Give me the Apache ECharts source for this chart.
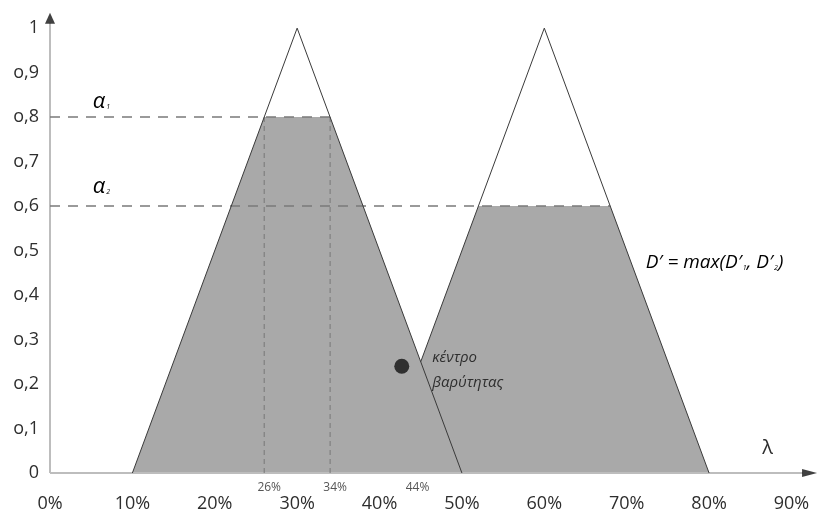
<!DOCTYPE html>
<html>
<head>
<meta charset="utf-8">
<script src="https://cdn.jsdelivr.net/npm/echarts@6/dist/echarts.min.js"></script>
<style>
html,body{margin:0;padding:0;background:#fff;}
#chart{width:820px;height:518px;}
</style>
</head>
<body>
<div id="chart"></div>
<script>
// ---- data ----
var xTickLabels = ['0%','10%','20%','30%','40%','50%','60%','70%','80%','90%'];
var yTickLabels = ['0','o,1','o,2','o,3','o,4','o,5','o,6','o,7','o,8','o,9','1'];
var triangle1 = [[10,0],[30,1],[50,0]];
var triangle2 = [[45,0.25],[60,1],[80,0]];
var aggregated = [[10,0],[26,0.8],[34,0.8],[45,0.25],[52,0.6],[68,0.6],[80,0]];
var alpha1Line = [[0,0.8],[34,0.8]];
var alpha2Line = [[0,0.6],[68,0.6]];
var cut1 = [[26,0],[26,0.8]];
var cut2 = [[34,0],[34,0.8]];
var centroid = [[42.7,0.24]];
var smallTickValues = [26,34,44];
var smallTickLabels = ['26%','34%','44%'];

var FONT = '"Open Sans", "Noto Sans", sans-serif';
var chart = echarts.init(document.getElementById('chart'), null, {renderer:'canvas'});

function labelFor(arr, v, step){
  var i = Math.round(v/step);
  if (Math.abs(i*step - v) > 1e-6 || i < 0 || i >= arr.length) return '';
  return arr[i];
}

var option = {
  animation:false,
  backgroundColor:'#ffffff',
  grid:{left:50, right:0, top:13, bottom:45},
  xAxis:{
    type:'value', min:0, max:93.1, interval:10,
    axisLine:{show:false}, axisTick:{show:false}, splitLine:{show:false},
    axisLabel:{margin:22, fontSize:18, color:'#2e2e2e', fontFamily:FONT,
      formatter:function(v){return labelFor(xTickLabels, v, 10);}}
  },
  yAxis:{
    type:'value', min:0, max:1.034, interval:0.1,
    axisLine:{show:false}, axisTick:{show:false}, splitLine:{show:false},
    axisLabel:{margin:11, fontSize:18, color:'#2e2e2e', fontFamily:FONT,
      formatter:function(v){return labelFor(yTickLabels, v, 0.1);}}
  },
  series:[
    {type:'line', data:aggregated, symbol:'none', lineStyle:{width:0},
     areaStyle:{color:'#a9a9a9', opacity:1}, z:1},
    {type:'line', data:[[0,0],[91.4,0]], symbol:'none', clip:false,
     lineStyle:{color:'#bdbdbd', width:2}, z:2},
    {type:'line', data:[[0,0],[0,1.012]], symbol:'none', clip:false,
     lineStyle:{color:'#bdbdbd', width:2}, z:2},
    {type:'scatter', data:[[92.2,0]], symbol:'triangle', symbolSize:[8,15], symbolRotate:-90,
     clip:false, itemStyle:{color:'#111'}, z:5},
    {type:'scatter', data:[[0,1.022]], symbol:'triangle', symbolSize:[10,11],
     clip:false, itemStyle:{color:'#111'}, z:5},
    {type:'line', data:alpha1Line, symbol:'none',
     lineStyle:{color:'#7a7a7a', width:1.5, type:[10,8]}, z:3},
    {type:'line', data:alpha2Line, symbol:'none',
     lineStyle:{color:'#7a7a7a', width:1.5, type:[10,8]}, z:3},
    {type:'line', data:cut1, symbol:'none',
     lineStyle:{color:'#777', width:1, type:[5,4]}, z:3},
    {type:'line', data:cut2, symbol:'none',
     lineStyle:{color:'#777', width:1, type:[5,4]}, z:3},
    {type:'line', data:triangle1, symbol:'none',
     lineStyle:{color:'#3a3a3a', width:1}, z:4},
    {type:'line', data:triangle2, symbol:'none',
     lineStyle:{color:'#3a3a3a', width:1}, z:4},
    {type:'scatter', data:centroid, symbol:'circle', symbolSize:15,
     itemStyle:{color:'#111'}, z:6}
  ]
};
chart.setOption(option);

// annotations placed via the chart's own coordinate conversion
function px(x,y){ return chart.convertToPixel({gridIndex:0},[x,y]); }
var g = [];
function rich(size, subSize, subPad){
  return {
    m:{fontSize:size, fontStyle:'italic', fontFamily:FONT, color:'#2e2e2e'},
    s:{fontSize:subSize, fontStyle:'italic', fontFamily:FONT, color:'#777', padding:[subPad,0,0,1]}
  };
}
var a1 = px(5.2,0.834), a2 = px(5.2,0.643);
g.push({type:'text', z:100, x:a1[0], y:a1[1], style:{text:'{m|α}{s|1}', rich:rich(22,7,10), verticalAlign:'middle', align:'left'}});
g.push({type:'text', z:100, x:a2[0], y:a2[1], style:{text:'{m|α}{s|2}', rich:rich(22,7,10), verticalAlign:'middle', align:'left'}});
var dp = px(72.3,0.472);
g.push({type:'text', z:100, x:dp[0], y:dp[1], style:{text:"{m|D′ = max(D′}{s|1}{m|, D′}{s|2}{m|)}", rich:rich(19,7,9), verticalAlign:'middle', align:'left'}});
var kp = px(46.4,0.258), bp = px(46.4,0.204);
g.push({type:'text', z:100, x:kp[0], y:kp[1], style:{text:'κέντρο', fontSize:15, fontStyle:'italic', fontFamily:FONT, fill:'#2e2e2e', verticalAlign:'middle', align:'left'}});
g.push({type:'text', z:100, x:bp[0], y:bp[1], style:{text:'βαρύτητας', fontSize:15, fontStyle:'italic', fontFamily:FONT, fill:'#2e2e2e', verticalAlign:'middle', align:'left'}});
var lp = px(87.1,0.056);
g.push({type:'text', z:100, x:lp[0], y:lp[1], style:{text:'λ', fontSize:20, fontFamily:FONT, fill:'#2e2e2e', verticalAlign:'middle', align:'center'}});
for (var i=0;i<smallTickValues.length;i++){
  var p = px(smallTickValues[i],0);
  g.push({type:'text', z:100, x:p[0]+5, y:p[1]+15, style:{text:smallTickLabels[i], fontSize:12, fontFamily:FONT, fill:'#555', verticalAlign:'middle', align:'center'}});
}
chart.setOption({graphic:g});
</script>
</body>
</html>
